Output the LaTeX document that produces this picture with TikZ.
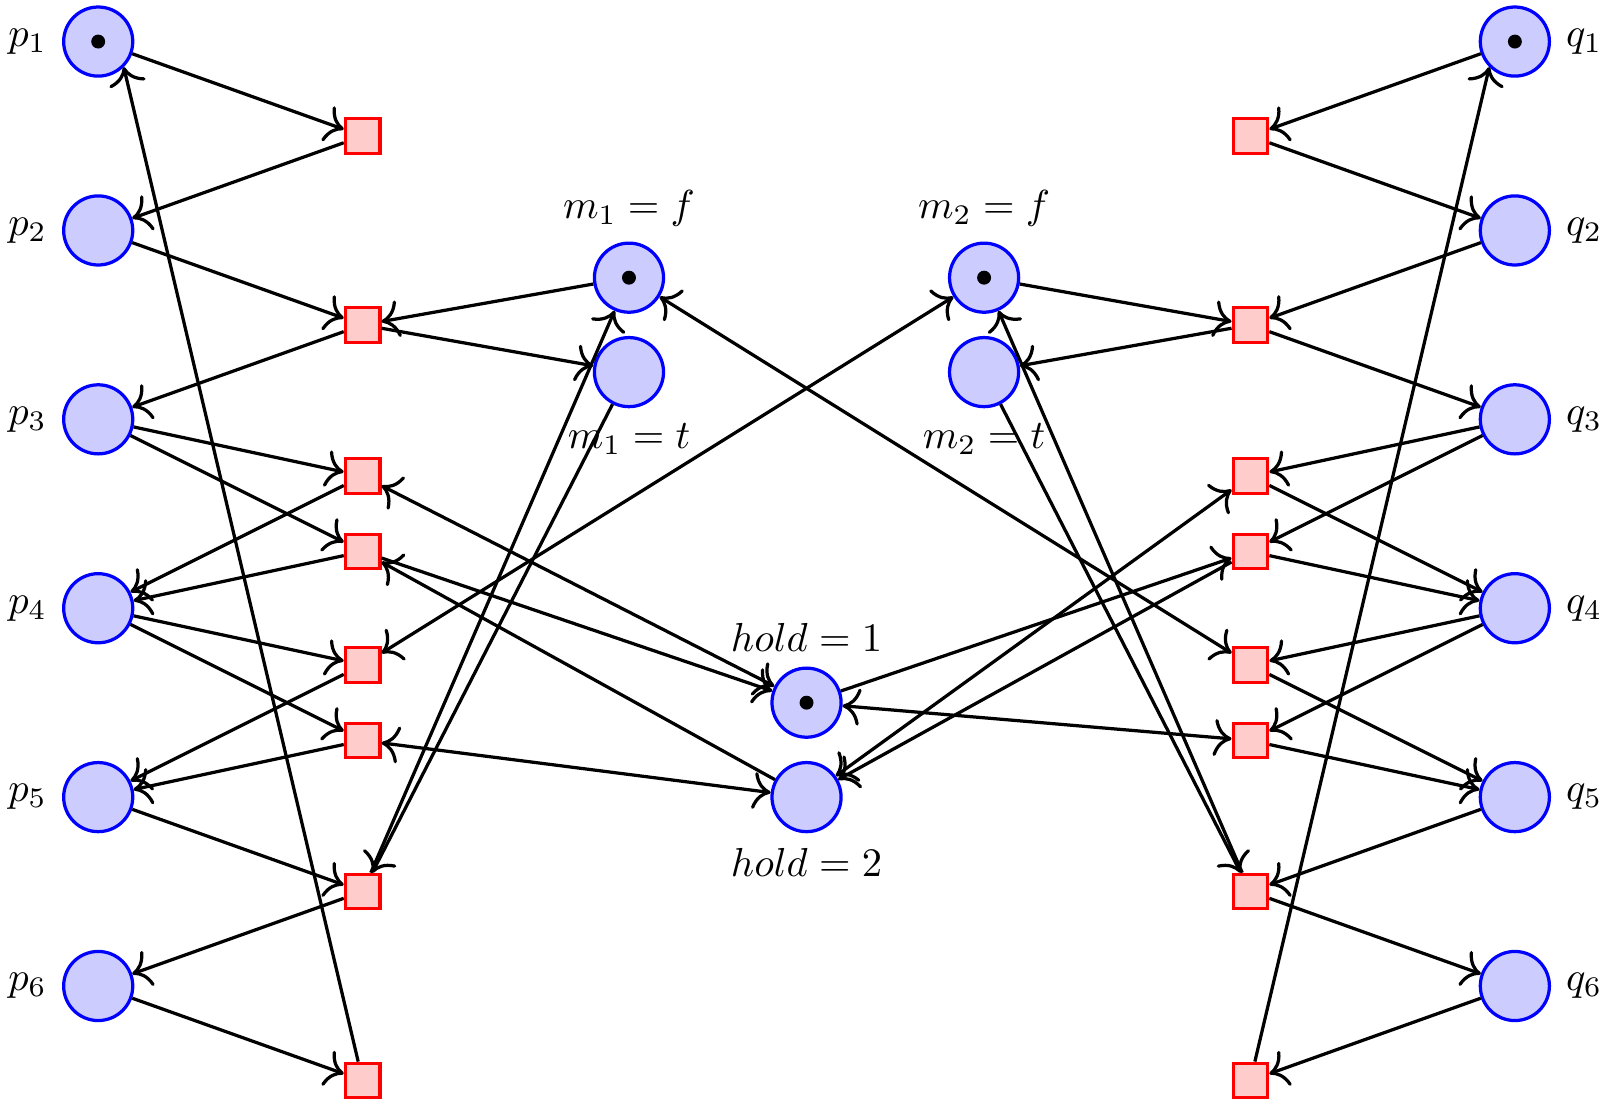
\documentclass[tikz,border=0pt]{standalone}
\usepackage{tikz}
\usetikzlibrary{arrows.meta}

\begin{document}
\begin{tikzpicture}[scale=0.82, thick, >={To[scale=1.3]},
  place/.style={circle, draw=blue, fill=blue!20, minimum size=6mm, inner sep=0pt},
  transition/.style={rectangle, draw=red, fill=red!20, minimum size=3mm, inner sep=0pt}]

\useasboundingbox (-8.54,0.44) rectangle (8.465,-11.26);

\def\px{7.5}
\def\tx{4.7}
\def\mx{1.88}

% places of p
\node[place, label=left:$p_1$] (p1) at (-\px, 0) {};
\node[place, label=left:$p_2$] (p2) at (-\px, -2) {};
\node[place, label=left:$p_3$] (p3) at (-\px, -4) {};
\node[place, label=left:$p_4$] (p4) at (-\px, -6) {};
\node[place, label=left:$p_5$] (p5) at (-\px, -8) {};
\node[place, label=left:$p_6$] (p6) at (-\px, -10) {};

% places of q
\node[place, label=right:$q_1$] (q1) at (\px, 0) {};
\node[place, label=right:$q_2$] (q2) at (\px, -2) {};
\node[place, label=right:$q_3$] (q3) at (\px, -4) {};
\node[place, label=right:$q_4$] (q4) at (\px, -6) {};
\node[place, label=right:$q_5$] (q5) at (\px, -8) {};
\node[place, label=right:$q_6$] (q6) at (\px, -10) {};

% shared variables
\node[place, label={above:$m_1 = f$}] (m1f) at (-\mx, -2.5) {};
\node[place, label={below:$m_1 = t$}] (m1t) at (-\mx, -3.5) {};
\node[place, label={above:$m_2 = f$}] (m2f) at (\mx, -2.5) {};
\node[place, label={below:$m_2 = t$}] (m2t) at (\mx, -3.5) {};
\node[place, label={above:$hold = 1$}] (h1) at (0, -7) {};
\node[place, label={below:$hold = 2$}] (h2) at (0, -8) {};

% transitions
\node[transition] (tp1) at (-\tx, -1) {};
\node[transition] (tp2) at (-\tx, -3) {};
\node[transition] (tp3) at (-\tx, -4.6) {};
\node[transition] (tp4) at (-\tx, -5.4) {};
\node[transition] (tp5) at (-\tx, -6.6) {};
\node[transition] (tp6) at (-\tx, -7.4) {};
\node[transition] (tp7) at (-\tx, -9) {};
\node[transition] (tp8) at (-\tx, -11) {};

\node[transition] (tq1) at (\tx, -1) {};
\node[transition] (tq2) at (\tx, -3) {};
\node[transition] (tq3) at (\tx, -4.6) {};
\node[transition] (tq4) at (\tx, -5.4) {};
\node[transition] (tq5) at (\tx, -6.6) {};
\node[transition] (tq6) at (\tx, -7.4) {};
\node[transition] (tq7) at (\tx, -9) {};
\node[transition] (tq8) at (\tx, -11) {};

% tokens
\fill (p1) circle (2.1pt);
\fill (q1) circle (2.1pt);
\fill (m1f) circle (2.1pt);
\fill (m2f) circle (2.1pt);
\fill (h1) circle (2.1pt);

% arcs of p
\draw[->] (p1) -- (tp1);
\draw[->] (tp1) -- (p2);
\draw[->] (p2) -- (tp2);
\draw[->] (tp2) -- (p3);
\draw[->] (m1f) -- (tp2);
\draw[->] (tp2) -- (m1t);
\draw[->] (p3) -- (tp3);
\draw[->] (p3) -- (tp4);
\draw[->] (tp3) -- (p4);
\draw[->] (tp4) -- (p4);
\draw[<->] (tp3) -- (h1);
\draw[->] (h2) -- (tp4);
\draw[->] (tp4) -- (h1);
\draw[->] (p4) -- (tp5);
\draw[->] (p4) -- (tp6);
\draw[->] (tp5) -- (p5);
\draw[->] (tp6) -- (p5);
\draw[<->] (tp5) -- (m2f);
\draw[<->] (tp6) -- (h2);
\draw[->] (p5) -- (tp7);
\draw[->] (tp7) -- (p6);
\draw[->] (m1t) -- (tp7);
\draw[->] (tp7) -- (m1f);
\draw[->] (p6) -- (tp8);
\draw[->] (tp8) -- (p1.south east);

% arcs of q
\draw[->] (q1) -- (tq1);
\draw[->] (tq1) -- (q2);
\draw[->] (q2) -- (tq2);
\draw[->] (tq2) -- (q3);
\draw[->] (m2f) -- (tq2);
\draw[->] (tq2) -- (m2t);
\draw[->] (q3) -- (tq3);
\draw[->] (q3) -- (tq4);
\draw[->] (tq3) -- (q4);
\draw[->] (tq4) -- (q4);
\draw[<->] (tq3) -- (h2);
\draw[->] (h1) -- (tq4);
\draw[->] (tq4) -- (h2);
\draw[->] (q4) -- (tq5);
\draw[->] (q4) -- (tq6);
\draw[->] (tq5) -- (q5);
\draw[->] (tq6) -- (q5);
\draw[<->] (tq5) -- (m1f);
\draw[<->] (tq6) -- (h1);
\draw[->] (q5) -- (tq7);
\draw[->] (tq7) -- (q6);
\draw[->] (m2t) -- (tq7);
\draw[->] (tq7) -- (m2f);
\draw[->] (q6) -- (tq8);
\draw[->] (tq8) -- (q1.south west);

\end{tikzpicture}
\end{document}
